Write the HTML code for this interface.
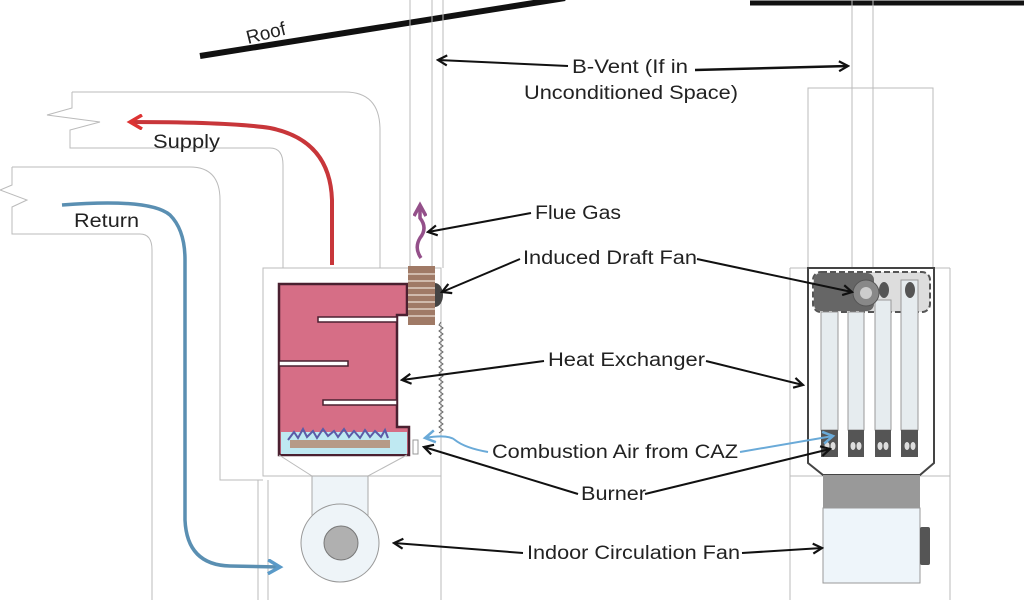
<!DOCTYPE html>
<html><head><meta charset="utf-8"><style>
html,body{margin:0;padding:0;background:#fff;}
svg{display:block;}
text{font-family:"Liberation Sans",Arial,sans-serif;font-size:19px;fill:#222;}
</style></head><body>
<svg width="1024" height="600" viewBox="0 0 1024 600" xmlns="http://www.w3.org/2000/svg">
<defs>
<marker id="ah" markerWidth="12" markerHeight="12" refX="10" refY="6" orient="auto" markerUnits="userSpaceOnUse">
<path d="M1,1 L10,6 L1,11" fill="none" stroke="#111" stroke-width="2.2"/></marker>
<marker id="ahr" markerWidth="18" markerHeight="16" refX="14" refY="8" orient="auto" markerUnits="userSpaceOnUse">
<path d="M2,1 L14,8 L2,15" fill="none" stroke="#d33" stroke-width="3.5"/></marker>
<marker id="ahb" markerWidth="18" markerHeight="16" refX="14" refY="8" orient="auto" markerUnits="userSpaceOnUse">
<path d="M2,1 L14,8 L2,15" fill="none" stroke="#5a9ac8" stroke-width="3.5"/></marker>
<marker id="ahl" markerWidth="14" markerHeight="14" refX="11" refY="7" orient="auto" markerUnits="userSpaceOnUse">
<path d="M1,1 L11,7 L1,13" fill="none" stroke="#6aaad8" stroke-width="2.5"/></marker>
<marker id="ahp" markerWidth="16" markerHeight="14" refX="12" refY="7" orient="auto" markerUnits="userSpaceOnUse">
<path d="M1,1 L12,7 L1,13" fill="none" stroke="#94508a" stroke-width="3.5"/></marker>
</defs>

<!-- roof -->
<line x1="200" y1="56" x2="565" y2="-2" stroke="#111" stroke-width="6"/>
<line x1="750" y1="3" x2="1024" y2="3" stroke="#111" stroke-width="5"/>
<text x="248" y="44" transform="rotate(-14 248 44)" textLength="40" lengthAdjust="spacingAndGlyphs">Roof</text>

<g stroke="#bbb" stroke-width="1" fill="none">
<line x1="410" y1="0" x2="410" y2="268"/>
<line x1="432" y1="0" x2="432" y2="268"/>
<line x1="852" y1="0" x2="852" y2="268"/>
<line x1="873" y1="0" x2="873" y2="268"/>
<rect x="808" y="88" width="125" height="180"/>
<path d="M72,92 L345,92 Q380,92 380,130 L380,268"/>
<path d="M72,92 L72,108 L47,115 L100,122 L70,130 L70,148 L270,148 Q283,148 283,165 L283,268"/>
<path d="M12,167 L190,167 Q220,167 220,200 L220,480 L263,480"/>
<path d="M12,167 L12,185 L0,190 L27,200 L12,207 L12,234 L140,234 Q152,234 152,250 L152,600"/>
<rect x="263" y="268" width="178" height="208"/>
<line x1="258" y1="480" x2="258" y2="600"/>
<line x1="268" y1="480" x2="268" y2="600"/>
<line x1="441" y1="476" x2="441" y2="600"/>
<line x1="443" y1="0" x2="443" y2="268"/>
<line x1="790" y1="268" x2="790" y2="600"/>
<line x1="950" y1="268" x2="950" y2="600"/>
<line x1="790" y1="268" x2="950" y2="268"/>
<line x1="790" y1="476" x2="950" y2="476"/>
</g>

<path d="M332,265 L332,200 Q330,140 270,128 Q230,122 130,122" fill="none" stroke="#c8363a" stroke-width="4" marker-end="url(#ahr)"/>
<path d="M62,205 Q150,198 170,215 Q185,230 185,260 L185,520 Q187,565 230,566 L280,567" fill="none" stroke="#5a8fb2" stroke-width="3.5" marker-end="url(#ahb)"/>

<path d="M279,284 L407,284 L407,315 L397,315 L397,427 L409,427 L409,455 L279,455 Z" fill="#d66e86" stroke="#4a2030" stroke-width="2.5"/>
<rect x="281" y="432" width="126" height="22" fill="#bfe9f2"/>
<rect x="290" y="440" width="100" height="8" fill="#b69a86"/>
<path d="M288,440 l6,-8 l4,6 l5,-9 l4,8 l6,-6 l4,7 l6,-9 l5,7 l6,-5 l4,6 l6,-8 l5,8 l5,-6 l6,7 l5,-8 l5,7 l5,-6 l6,6 l4,-7 l3,8" fill="none" stroke="#5b5ba8" stroke-width="2"/>
<rect x="318" y="317" width="79" height="5" fill="#fff" stroke="#4a2030" stroke-width="1.5"/>
<rect x="279" y="361" width="69" height="5" fill="#fff" stroke="#4a2030" stroke-width="1.5"/>
<rect x="323" y="400" width="74" height="5" fill="#fff" stroke="#4a2030" stroke-width="1.5"/>
<path d="M279,455 L312,476 L368,476 L407,455" fill="none" stroke="#bbb"/>
<rect x="312" y="476" width="56" height="64" fill="#eef4f8" stroke="#aaa"/>
<circle cx="340" cy="543" r="39" fill="#eef4f8" stroke="#999"/>
<circle cx="341" cy="543" r="17" fill="#b0b0b0" stroke="#777"/>
<rect x="408" y="266" width="27" height="59" fill="#a07a66"/>
<g stroke="#e0d0c4" stroke-width="1.5">
<line x1="408" y1="274" x2="435" y2="274"/><line x1="408" y1="281" x2="435" y2="281"/>
<line x1="408" y1="288" x2="435" y2="288"/><line x1="408" y1="295" x2="435" y2="295"/>
<line x1="408" y1="302" x2="435" y2="302"/><line x1="408" y1="309" x2="435" y2="309"/>
<line x1="408" y1="316" x2="435" y2="316"/></g>
<path d="M435,283 A8,12 0 0 1 435,307 Z" fill="#444"/>
<path d="M441,322 l-2,3 l4,3 l-4,3 l4,3 l-4,3 l4,3 l-4,3 l4,3 l-4,3 l4,3 l-4,3 l4,3 l-4,3 l4,3 l-4,3 l4,3 l-4,3 l4,3 l-4,3 l4,3 l-4,3 l4,3 l-4,3 l4,3 l-4,3 l4,3 l-4,3 l4,3 l-4,3 l4,3 l-4,3 l4,3 l-4,3 l4,3 l-4,3 l4,3 l-4,3" fill="none" stroke="#666" stroke-width="1"/>
<rect x="413" y="440" width="5" height="14" fill="#fff" stroke="#999"/>
<path d="M421,258 Q414,248 420,238 Q428,228 420,218 L420,205" fill="none" stroke="#94508a" stroke-width="3.5" marker-end="url(#ahp)"/>

<path d="M808,268 L934,268 L934,463 L920,475 L823,475 L808,463 Z" fill="#fff" stroke="#444" stroke-width="2"/>
<rect x="813" y="272" width="117" height="40" rx="8" fill="#ddd" stroke="#555" stroke-width="2" stroke-dasharray="6,3"/>
<rect x="814" y="273" width="60" height="38" rx="7" fill="#666"/>
<g fill="#e6ecef" stroke="#999">
<rect x="821" y="312" width="17" height="118"/><rect x="848" y="312" width="16" height="118"/>
<rect x="875" y="300" width="16" height="130"/><rect x="901" y="280" width="17" height="150"/></g>
<ellipse cx="884" cy="290" rx="5" ry="8" fill="#555"/><ellipse cx="910" cy="290" rx="5" ry="8" fill="#555"/>
<circle cx="866" cy="293" r="13" fill="#888" stroke="#555"/><circle cx="866" cy="293" r="6" fill="#ccc"/>
<g fill="#555"><rect x="821" y="430" width="17" height="27"/><rect x="848" y="430" width="16" height="27"/><rect x="875" y="430" width="16" height="27"/><rect x="901" y="430" width="17" height="27"/></g>
<g fill="#ddd"><ellipse cx="827" cy="446" rx="2.5" ry="4"/><ellipse cx="833" cy="446" rx="2.5" ry="4"/><ellipse cx="853" cy="446" rx="2.5" ry="4"/><ellipse cx="859" cy="446" rx="2.5" ry="4"/><ellipse cx="880" cy="446" rx="2.5" ry="4"/><ellipse cx="886" cy="446" rx="2.5" ry="4"/><ellipse cx="907" cy="446" rx="2.5" ry="4"/><ellipse cx="913" cy="446" rx="2.5" ry="4"/></g>
<rect x="823" y="475" width="97" height="33" fill="#999"/>
<rect x="823" y="508" width="97" height="75" fill="#eef5fa" stroke="#999"/>
<rect x="920" y="527" width="10" height="38" rx="2" fill="#555"/>

<text x="572" y="73" textLength="116" lengthAdjust="spacingAndGlyphs">B-Vent (If in</text>
<text x="524" y="99" textLength="214" lengthAdjust="spacingAndGlyphs">Unconditioned Space)</text>
<path d="M568,66 L438,60" stroke="#111" stroke-width="2" marker-end="url(#ah)"/>
<path d="M695,70 L848,66" stroke="#111" stroke-width="2.5" marker-end="url(#ah)"/>
<text x="535" y="219" textLength="86" lengthAdjust="spacingAndGlyphs">Flue Gas</text>
<path d="M531,213 L428,232" stroke="#111" stroke-width="2" marker-end="url(#ah)"/>
<text x="523" y="264" textLength="174" lengthAdjust="spacingAndGlyphs">Induced Draft Fan</text>
<path d="M520,259 L442,292" stroke="#111" stroke-width="2" marker-end="url(#ah)"/>
<path d="M697,259 L852,292" stroke="#111" stroke-width="2" marker-end="url(#ah)"/>
<text x="548" y="366" textLength="157" lengthAdjust="spacingAndGlyphs">Heat Exchanger</text>
<path d="M544,361 L402,380" stroke="#111" stroke-width="2" marker-end="url(#ah)"/>
<path d="M706,361 L803,385" stroke="#111" stroke-width="2" marker-end="url(#ah)"/>
<text x="492" y="458" textLength="246" lengthAdjust="spacingAndGlyphs">Combustion Air from CAZ</text>
<path d="M488,452 Q465,448 455,440 Q448,434 425,438" fill="none" stroke="#6aaad8" stroke-width="2" marker-end="url(#ahl)"/>
<path d="M740,452 L833,436" stroke="#6aaad8" stroke-width="2" marker-end="url(#ahl)"/>
<text x="581" y="500" textLength="65" lengthAdjust="spacingAndGlyphs">Burner</text>
<path d="M578,494 L424,447" stroke="#111" stroke-width="2" marker-end="url(#ah)"/>
<path d="M645,494 L830,449" stroke="#111" stroke-width="2" marker-end="url(#ah)"/>
<text x="527" y="559" textLength="213" lengthAdjust="spacingAndGlyphs">Indoor Circulation Fan</text>
<path d="M523,553 L394,543" stroke="#111" stroke-width="2" marker-end="url(#ah)"/>
<path d="M742,553 L822,548" stroke="#111" stroke-width="2" marker-end="url(#ah)"/>
<text x="153" y="148" textLength="67" lengthAdjust="spacingAndGlyphs">Supply</text>
<text x="74" y="227" textLength="65" lengthAdjust="spacingAndGlyphs">Return</text>
</svg>
</body></html>
